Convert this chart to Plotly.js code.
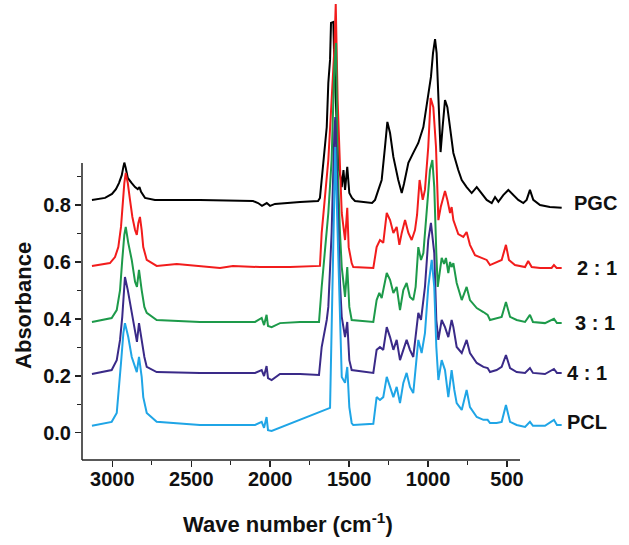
<!DOCTYPE html>
<html>
<head>
<meta charset="utf-8">
<script src="https://cdn.plot.ly/plotly-3.0.1.min.js"></script>
<style>html,body{margin:0;padding:0;background:#fff;}#chart{width:629px;height:545px;}</style>
</head>
<body>
<div id="chart"></div>
<script>
// ---- data (wavenumber in cm-1, absorbance) ----
var seriesNames = ["PGC", "2 : 1", "3 : 1", "4 : 1", "PCL"];
var seriesColors = ["#000000", "#f21c1c", "#1d9a4a", "#3a2a88", "#1fa5e6"];

var pgcX = [3129,3046,3002,2977,2958,2940,2930,2924,2915,2902,2877,2856,2839,2828,2818,2793,2730,2445,2109,2077,2052,2022,2001,1970,1811,1697,1685,1674,1664,1642,1632,1621,1615,1600,1596,1579,1569,1554,1547,1536,1526,1512,1499,1482,1463,1355,1336,1315,1294,1273,1258,1241,1220,1189,1167,1153,1125,1094,1062,1030,999,982,969,956,946,935,921,908,893,878,861,840,809,787,756,724,692,661,629,597,576,555,524,492,460,429,397,376,355,334,291,229,154];
var pgcY = [0.818,0.825,0.839,0.856,0.877,0.905,0.934,0.949,0.930,0.895,0.877,0.863,0.856,0.863,0.846,0.825,0.818,0.818,0.814,0.807,0.797,0.807,0.797,0.804,0.811,0.814,0.825,0.888,0.948,1.074,1.229,1.310,1.440,1.443,1.345,1.053,0.934,0.898,0.863,0.923,0.853,0.934,0.842,0.825,0.814,0.807,0.818,0.853,0.888,1.004,1.092,1.053,0.969,0.888,0.842,0.874,0.948,0.983,1.018,1.074,1.180,1.250,1.334,1.383,1.334,1.158,0.986,1.074,1.169,1.144,1.064,0.983,0.923,0.888,0.863,0.842,0.863,0.842,0.818,0.807,0.828,0.811,0.835,0.853,0.835,0.818,0.807,0.818,0.853,0.818,0.800,0.793,0.790];

var r21X = [3129,3015,2983,2962,2945,2934,2924,2915,2902,2888,2873,2856,2845,2835,2825,2814,2804,2782,2719,2592,2445,2318,2236,2065,1875,1685,1674,1653,1632,1611,1594,1585,1573,1558,1547,1526,1512,1503,1484,1474,1347,1326,1305,1284,1262,1241,1220,1199,1182,1167,1146,1125,1104,1083,1070,1054,1034,1020,999,984,967,950,935,920,893,878,861,851,840,809,777,756,735,703,661,629,608,576,534,507,488,450,386,366,344,291,218,203,186,154];
var r21Y = [0.586,0.596,0.617,0.652,0.723,0.818,0.877,0.913,0.877,0.818,0.758,0.712,0.695,0.737,0.758,0.712,0.652,0.607,0.586,0.593,0.586,0.579,0.586,0.582,0.582,0.586,0.702,0.828,0.958,1.169,1.345,1.506,1.169,0.934,0.772,0.677,0.790,0.652,0.596,0.582,0.579,0.652,0.677,0.667,0.772,0.747,0.702,0.723,0.660,0.702,0.747,0.702,0.677,0.712,0.765,0.888,0.818,0.853,1.004,1.176,1.144,1.004,0.747,0.793,0.849,0.818,0.772,0.793,0.747,0.698,0.688,0.705,0.660,0.624,0.614,0.607,0.589,0.596,0.607,0.660,0.607,0.589,0.582,0.603,0.582,0.579,0.579,0.589,0.579,0.579];

var r31X = [3129,3004,2972,2951,2937,2924,2915,2899,2877,2856,2844,2831,2814,2797,2782,2719,2445,2096,2054,2039,2023,2014,1991,1938,1811,1691,1674,1653,1632,1611,1594,1583,1573,1558,1547,1526,1512,1499,1484,1347,1326,1309,1294,1262,1241,1220,1199,1178,1157,1136,1115,1094,1079,1062,1045,1030,1009,988,973,961,948,939,914,899,887,872,861,851,840,819,787,756,735,692,650,623,608,566,534,507,481,439,386,355,336,260,203,184,154];
var r31Y = [0.389,0.403,0.431,0.501,0.607,0.695,0.723,0.667,0.607,0.530,0.512,0.572,0.501,0.442,0.421,0.396,0.389,0.389,0.403,0.378,0.414,0.375,0.371,0.385,0.389,0.389,0.512,0.631,0.772,0.958,1.285,1.369,0.934,0.702,0.582,0.477,0.582,0.442,0.396,0.389,0.466,0.491,0.473,0.561,0.537,0.491,0.512,0.431,0.501,0.526,0.477,0.466,0.512,0.652,0.607,0.631,0.793,0.923,0.958,0.863,0.631,0.512,0.614,0.593,0.614,0.561,0.600,0.582,0.596,0.526,0.466,0.512,0.466,0.438,0.424,0.414,0.396,0.403,0.407,0.459,0.407,0.396,0.389,0.414,0.389,0.385,0.400,0.385,0.385];

var r41X = [3129,3004,2972,2951,2937,2920,2902,2882,2856,2844,2831,2814,2797,2782,2719,2445,2096,2054,2039,2023,2014,1991,1938,1811,1691,1674,1642,1632,1611,1594,1588,1573,1558,1547,1526,1512,1499,1484,1347,1326,1305,1284,1262,1241,1220,1199,1178,1157,1136,1115,1094,1062,1045,1020,999,982,961,948,935,914,893,872,851,840,819,787,756,735,692,650,623,608,566,534,507,481,439,386,355,336,260,203,184,154];
var r41Y = [0.206,0.220,0.255,0.326,0.407,0.547,0.501,0.442,0.354,0.319,0.385,0.326,0.266,0.231,0.213,0.210,0.210,0.220,0.199,0.234,0.192,0.185,0.206,0.206,0.203,0.301,0.396,0.442,0.702,1.053,1.109,0.818,0.526,0.407,0.336,0.389,0.255,0.220,0.210,0.291,0.301,0.291,0.371,0.336,0.291,0.326,0.255,0.291,0.326,0.291,0.266,0.421,0.396,0.512,0.677,0.737,0.631,0.396,0.326,0.396,0.371,0.336,0.396,0.371,0.301,0.280,0.326,0.280,0.245,0.231,0.227,0.213,0.220,0.231,0.273,0.227,0.213,0.210,0.227,0.210,0.206,0.224,0.210,0.210];

var pclX = [3129,3004,2972,2962,2945,2930,2920,2899,2877,2856,2845,2831,2814,2804,2782,2719,2445,2096,2054,2039,2023,2014,1991,1621,1611,1600,1588,1573,1558,1547,1526,1512,1499,1484,1474,1347,1326,1305,1284,1262,1241,1220,1199,1178,1157,1136,1115,1094,1062,1041,1020,999,977,961,948,935,914,893,872,851,834,819,787,756,735,692,650,623,608,566,534,507,481,439,386,355,336,260,203,184,154];
var pclY = [0.024,0.038,0.069,0.125,0.245,0.350,0.385,0.336,0.266,0.231,0.213,0.266,0.196,0.125,0.069,0.038,0.027,0.027,0.038,0.017,0.055,0.009,0.006,0.087,0.350,0.702,1.004,0.702,0.350,0.196,0.175,0.231,0.090,0.034,0.027,0.031,0.125,0.115,0.125,0.196,0.161,0.125,0.161,0.104,0.175,0.210,0.161,0.139,0.326,0.280,0.350,0.512,0.607,0.512,0.301,0.185,0.255,0.220,0.125,0.220,0.150,0.104,0.080,0.150,0.090,0.055,0.045,0.045,0.034,0.034,0.038,0.097,0.038,0.027,0.020,0.038,0.024,0.024,0.045,0.027,0.027];

var xTickVals = [3000, 2500, 2000, 1500, 1000, 500];
var xMinorVals = [2750, 2250, 1750, 1250, 750];
var yTickVals = [0.0, 0.2, 0.4, 0.6, 0.8];
var yTickText = ["0.0", "0.2", "0.4", "0.6", "0.8"];
var yMinorVals = [0.1, 0.3, 0.5, 0.7, 0.9];

// ---- build ----
var xs = [pgcX, r21X, r31X, r41X, pclX];
var ys = [pgcY, r21Y, r31Y, r41Y, pclY];
var traces = xs.map(function (x, i) {
  return {
    x: x, y: ys[i], type: "scatter", mode: "lines", name: seriesNames[i],
    line: {color: seriesColors[i], width: 2, shape: "linear"},
    hoverinfo: "skip"
  };
});

var FAM = "Liberation Sans, Arial, sans-serif";
var bold = {family: FAM, size: 20, color: "#111", weight: 700};
var labelY = [0.559, 0.417, 0.298, 0.189, 0.083];
var labelX = [1.0145, 1.0207, 1.0166, 1.0, 1.0];
var annotations = seriesNames.map(function (n, i) {
  return {text: n, xref: "paper", yref: "paper", x: labelX[i], y: labelY[i],
    xanchor: "left", yanchor: "middle", showarrow: false,
    font: {family: FAM, size: 20, color: "#111", weight: 700}};
});
annotations.push({text: "Absorbance", xref: "paper", yref: "paper", x: -0.12, y: 0.335,
  textangle: -90, xanchor: "center", yanchor: "middle", showarrow: false,
  font: {family: FAM, size: 22, color: "#111", weight: 700}});
annotations.push({text: "Wave number (cm<sup>-1</sup>)", xref: "paper", yref: "paper", x: 0.4265, y: -0.137,
  xanchor: "center", yanchor: "middle", showarrow: false,
  font: {family: FAM, size: 22, color: "#111", weight: 700}});

var layout = {
  width: 629, height: 545,
  margin: {l: 82, r: 64, t: 0, b: 85, pad: 0},
  paper_bgcolor: "#fff", plot_bgcolor: "#fff",
  showlegend: false,
  xaxis: {
    range: [3192, 133], showgrid: false, zeroline: false, showline: false,
    tickmode: "array", tickvals: xTickVals, ticks: "outside", ticklen: 6, tickwidth: 1.5, tickcolor: "#222",
    tickfont: bold, ticklabelstandoff: -5,
    minor: {tickmode: "array", tickvals: xMinorVals, ticks: "outside", ticklen: 4, tickwidth: 1.2, tickcolor: "#222", showgrid: false}
  },
  yaxis: {
    range: [-0.096, 1.5204], showgrid: false, zeroline: false, showline: false,
    tickmode: "array", tickvals: yTickVals, ticktext: yTickText, ticks: "outside", ticklen: 6, tickwidth: 1.5, tickcolor: "#222",
    tickfont: bold,
    minor: {tickmode: "array", tickvals: yMinorVals, ticks: "outside", ticklen: 4, tickwidth: 1.2, tickcolor: "#222", showgrid: false}
  },
  shapes: [
    {type: "line", xref: "x", yref: "paper", x0: 3192, x1: 418, y0: 0, y1: 0, line: {color: "#222", width: 1.5}},
    {type: "line", xref: "paper", yref: "y", x0: 0, x1: 0, y0: -0.096, y1: 0.948, line: {color: "#222", width: 1.5}}
  ],
  annotations: annotations
};

Plotly.newPlot("chart", traces, layout, {displayModeBar: false, staticPlot: true});
</script>
</body>
</html>
